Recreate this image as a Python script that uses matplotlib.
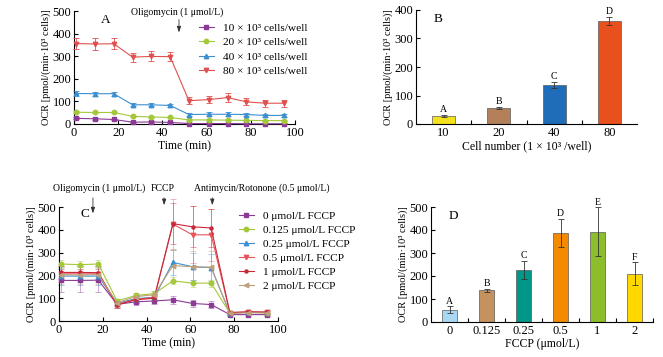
import matplotlib
matplotlib.use("Agg")
import matplotlib.pyplot as plt
from matplotlib.lines import Line2D
import numpy as np

plt.rcParams['font.family'] = ['Liberation Serif', 'DejaVu Serif']
plt.rcParams['mathtext.fontset'] = 'stix'

# ---------------- data ----------------
time_min = [1, 9.5, 18, 26.5, 35, 43.5, 52, 61, 69.5, 78, 86.5, 95]

# Panel A
a_labels = ["10 × 10³ cells/well", "20 × 10³ cells/well",
            "40 × 10³ cells/well", "80 × 10³ cells/well"]
a_10 = [25, 23, 20, 8, 9, 7, 2, 2, 2, 1, 1, 1]
a_10_err = [4, 4, 4, 3, 3, 3, 2, 2, 2, 2, 2, 2]
a_20 = [52, 51, 51, 34, 31, 29, 18, 18, 17, 16, 15, 15]
a_20_err = [5, 4, 4, 3, 3, 3, 3, 3, 3, 3, 3, 3]
a_40 = [135, 134, 134, 85, 85, 82, 42, 43, 43, 42, 38, 38]
a_40_err = [9, 8, 8, 6, 6, 6, 5, 8, 8, 5, 6, 6]
a_80 = [356, 354, 355, 296, 299, 298, 103, 108, 117, 98, 92, 92]
a_80_err = [25, 25, 24, 20, 22, 21, 15, 17, 20, 15, 16, 15]

# Panel B
b_categories = ["10", "20", "40", "80"]
b_values = [28, 56, 137, 361]
b_err = [4, 3, 10, 14]
b_letters = ["A", "B", "C", "D"]

# Panel C
c_labels = ["0 μmol/L FCCP", "0.125 μmol/L FCCP", "0.25 μmol/L FCCP",
            "0.5 μmol/L FCCP", "1 μmol/L FCCP", "2 μmol/L FCCP"]
c_0 = [178, 178, 179, 73, 84, 88, 93, 77, 72, 28, 28, 28]
c_0_err = [50, 50, 50, 15, 15, 15, 18, 15, 15, 8, 8, 8]
c_0125 = [250, 247, 250, 88, 112, 120, 176, 166, 166, 35, 38, 36]
c_0125_err = [18, 18, 18, 10, 10, 10, 15, 15, 15, 8, 8, 8]
c_025 = [197, 197, 197, 77, 98, 104, 257, 238, 234, 35, 38, 38]
c_025_err = [40, 40, 40, 12, 15, 15, 55, 60, 60, 8, 8, 8]
c_05 = [207, 207, 207, 73, 95, 103, 425, 378, 378, 37, 40, 38]
c_05_err = [35, 35, 35, 12, 15, 15, 110, 125, 115, 8, 8, 8]
c_1 = [213, 213, 212, 70, 93, 100, 427, 413, 408, 37, 40, 39]
c_1_err = [30, 30, 30, 12, 14, 14, 90, 90, 85, 8, 8, 8]
c_2 = [203, 202, 203, 80, 107, 115, 243, 238, 236, 33, 36, 35]
c_2_err = [40, 40, 40, 15, 15, 15, 70, 70, 70, 8, 8, 8]

# Panel D
d_categories = ["0", "0.125", "0.25", "0.5", "1", "2"]
d_values = [54, 138, 225, 388, 393, 209]
d_err = [14, 6, 40, 60, 105, 50]
d_letters = ["A", "B", "C", "D", "E", "F"]

ylabel = "OCR [pmol/(min·10³ cells)]"

# ---------------- styling ----------------
a_colors = ["#8B3A96", "#A5C83A", "#3C8FD0", "#E0504E"]
a_markers = ["s", "o", "^", "v"]
b_colors = ["#F5E21E", "#B4805A", "#1F6CB8", "#E8501E"]
c_colors = ["#8B3A96", "#A5C83A", "#3C8FD0", "#E8545A", "#C8283A", "#BFA07A"]
c_markers = ["s", "o", "^", "v", "o", "<"]
c_msizes = [3.2, 3.2, 3.2, 3.2, 2.2, 3.2]
d_colors = ["#A9D9F2", "#C3925F", "#009688", "#F38A00", "#8BBE2A", "#FFD800"]

TICK_FS = 9
LAB_FS = 8.5
YLAB_FS = 7.5
LEG_FS = 8.2
ANN_FS = 7

ARROW = dict(arrowstyle='-|>,head_length=0.35,head_width=0.12', lw=0.6, color='#333333',
             shrinkA=0, shrinkB=0)

fig = plt.figure(figsize=(6.63, 3.57), dpi=100)


def style_axes(ax):
    ax.spines['top'].set_visible(False)
    ax.spines['right'].set_visible(False)
    for s in ('left', 'bottom'):
        ax.spines[s].set_linewidth(0.8)
    ax.tick_params(direction='in', length=3, width=0.8, labelsize=TICK_FS, pad=2)


def legend_handles(colors, markers, sizes):
    return [Line2D([], [], color=c, marker=m, ms=s, lw=0.8) for c, m, s in zip(colors, markers, sizes)]


# ---- Panel A ----
axA = fig.add_axes([74/663, 1-124/357, 221/663, 113/357])
a_series = [(a_10, a_10_err), (a_20, a_20_err), (a_40, a_40_err), (a_80, a_80_err)]
for (vals, errs), col, mk, lab in zip(a_series, a_colors, a_markers, a_labels):
    axA.errorbar(time_min, vals, yerr=errs, color=col, ecolor=col, elinewidth=0.6,
                 capsize=2, capthick=0.6, lw=0.8, marker=mk, ms=3.2,
                 label=lab, clip_on=False, zorder=3)
axA.set_xlim(0, 100)
axA.set_ylim(0, 500)
axA.set_xticks([0, 20, 40, 60, 80, 100])
axA.set_yticks([0, 100, 200, 300, 400, 500])
style_axes(axA)
axA.set_xlabel("Time (min)", fontsize=LAB_FS, labelpad=1)
axA.set_ylabel(ylabel, fontsize=YLAB_FS, labelpad=1)
axA.text(0.12, 0.97, "A", transform=axA.transAxes, fontsize=9.5, va='top', ha='left')
axA.annotate("", xy=(47.5, 405), xytext=(47.5, 462), arrowprops=ARROW,
             annotation_clip=False)
axA.text(46.6, 496, "Oligomycin (1 μmol/L)", fontsize=ANN_FS, ha='center', va='center')
fig.legend(legend_handles(a_colors, a_markers, [3.2] * 4), a_labels, loc='upper left',
           bbox_to_anchor=(199/663, 1-23/357), frameon=False, fontsize=LEG_FS,
           handlelength=1.3, handletextpad=0.8, labelspacing=0.38,
           borderpad=0, borderaxespad=0)

# ---- Panel B ----
axB = fig.add_axes([416/663, 1-124/357, 221/663, 114/357])
xb = np.arange(len(b_categories))
axB.bar(xb, b_values, width=0.42, color=b_colors, edgecolor='#5a5a5a', linewidth=0.5,
        yerr=b_err, capsize=2.5, error_kw=dict(elinewidth=0.6, capthick=0.6, ecolor='#333333'))
for x, v, e, t in zip(xb, b_values, b_err, b_letters):
    axB.text(x, v + e + 3, t, ha='center', va='bottom', fontsize=ANN_FS)
axB.set_xlim(-0.5, len(b_categories) - 0.5)
axB.set_ylim(0, 400)
axB.set_yticks([0, 100, 200, 300, 400])
axB.set_xticks(xb)
axB.set_xticklabels(b_categories)
axB.set_xticks(np.arange(0.5, len(b_categories) - 0.5, 1), minor=True)
style_axes(axB)
axB.tick_params(axis='x', which='major', length=0)
axB.tick_params(axis='x', which='minor', direction='in', length=3, width=0.8)
axB.set_xlabel("Cell number (1 × 10³ /well)", fontsize=LAB_FS, labelpad=1)
axB.set_ylabel(ylabel, fontsize=YLAB_FS, labelpad=1)
axB.text(0.08, 0.97, "B", transform=axB.transAxes, fontsize=9.5, va='top', ha='left')

# ---- Panel C ----
axC = fig.add_axes([59/663, 1-321/357, 219/663, 114/357])
c_series = [(c_0, c_0_err), (c_0125, c_0125_err), (c_025, c_025_err),
            (c_05, c_05_err), (c_1, c_1_err), (c_2, c_2_err)]
for (vals, errs), col, mk, ms in zip(c_series, c_colors, c_markers, c_msizes):
    axC.errorbar(time_min, vals, yerr=errs, fmt='none', ecolor=col, elinewidth=0.6,
                 capsize=2, capthick=0.6, alpha=0.5, clip_on=False, zorder=2)
    axC.plot(time_min, vals, color=col, lw=0.8, marker=mk, ms=ms,
             clip_on=False, zorder=3)
axC.set_xlim(0, 100)
axC.set_ylim(0, 500)
axC.set_xticks([0, 20, 40, 60, 80, 100])
axC.set_yticks([0, 100, 200, 300, 400, 500])
style_axes(axC)
axC.set_xlabel("Time (min)", fontsize=LAB_FS, labelpad=1)
axC.set_ylabel(ylabel, fontsize=YLAB_FS, labelpad=1)
axC.text(0.1, 0.99, "C", transform=axC.transAxes, fontsize=9.5, va='top', ha='left')
for xa, xt, bot, txt in [(15.5, 18.3, 472, "Oligomycin (1 μmol/L)"), (48, 47.5, 508, "FCCP"),
                         (70, 92.7, 508, "Antimycin/Rotonone (0.5 μmol/L)")]:
    axC.annotate("", xy=(xa, bot), xytext=(xa, 540), arrowprops=ARROW,
                 annotation_clip=False)
    axC.text(xt, 582, txt, fontsize=ANN_FS, ha='center', va='center')
fig.legend(legend_handles(c_colors, c_markers, c_msizes), c_labels, loc='upper left',
           bbox_to_anchor=(239/663, 1-211/357), frameon=False, fontsize=LEG_FS,
           handlelength=1.3, handletextpad=0.8, labelspacing=0.36,
           borderpad=0, borderaxespad=0)

# ---- Panel D ----
axD = fig.add_axes([431/663, 1-322/357, 222/663, 115/357])
xd = np.arange(len(d_categories))
axD.bar(xd, d_values, width=0.42, color=d_colors, edgecolor='#5a5a5a', linewidth=0.5,
        yerr=d_err, capsize=2.5, error_kw=dict(elinewidth=0.6, capthick=0.6, ecolor='#333333'))
for x, v, e, t in zip(xd, d_values, d_err, d_letters):
    axD.text(x, v + e + 3, t, ha='center', va='bottom', fontsize=ANN_FS)
axD.set_xlim(-0.5, len(d_categories) - 0.5)
axD.set_ylim(0, 500)
axD.set_yticks([0, 100, 200, 300, 400, 500])
axD.set_xticks(xd)
axD.set_xticklabels(d_categories)
axD.set_xticks(np.arange(0.5, len(d_categories), 1), minor=True)
style_axes(axD)
axD.tick_params(axis='x', which='major', length=0)
axD.tick_params(axis='x', which='minor', direction='in', length=3, width=0.8)
axD.set_xlabel("FCCP (μmol/L)", fontsize=LAB_FS, labelpad=1)
axD.set_ylabel(ylabel, fontsize=YLAB_FS, labelpad=1)
axD.text(0.08, 0.97, "D", transform=axD.transAxes, fontsize=9.5, va='top', ha='left')

fig.savefig("out.png", dpi=100)
